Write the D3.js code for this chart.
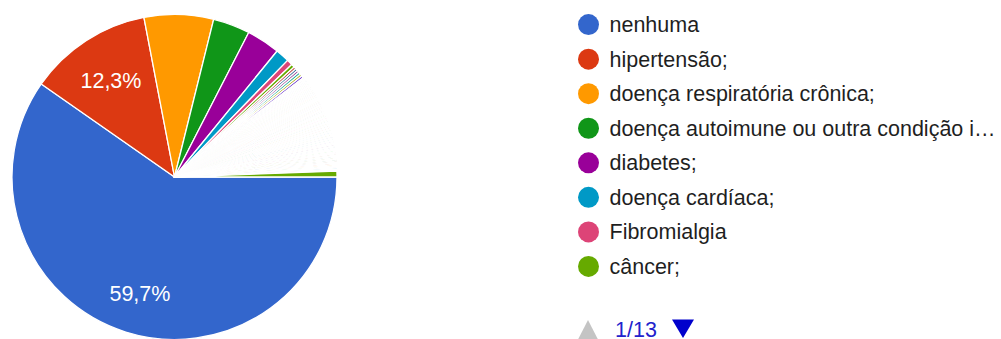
<!DOCTYPE html>
<html>
<head>
<meta charset="utf-8">
<script src="https://cdn.jsdelivr.net/npm/d3@7"></script>
<style>
  html, body { margin: 0; padding: 0; background: #fff; }
  svg { display: block; font-family: Arial, "Liberation Sans", Helvetica, sans-serif; }
</style>
</head>
<body>
<svg id="chart" width="1001" height="339"></svg>
<script>
// Answers on the first legend page and their response counts
const categories = [
  "nenhuma",
  "hipertensão;",
  "doença respiratória crônica;",
  "doença autoimune ou outra condição imunológica;",
  "diabetes;",
  "doença cardíaca;",
  "Fibromialgia",
  "câncer;"
];
const counts = [520, 107, 60, 32, 29, 12, 5, 3];

// Remaining free-text answers (later legend pages), one or a few responses each
const otherCounts = [
  2,2,2,2,2,2,
  1,1,1,1,1,1,1,1,1,1, 1,1,1,1,1,1,1,1,1,1,
  1,1,1,1,1,1,1,1,1,1, 1,1,1,1,1,1,1,1,1,1,
  1,1,1,1,1,1,1,1,1,1, 1,1,1,1,1,1,1,1,1,1,
  1,1,1,1,1,1,1,1,1,1, 1,1,1,1,1,1,1,1,1,1,
  1,1,1,1,1,1,
  5
];

const palette = [
  "#3366cc","#dc3912","#ff9900","#109618","#990099","#0099c6","#dd4477","#66aa00",
  "#b82e2e","#316395","#994499","#22aa99","#aaaa11","#6633cc","#e67300","#8b0707",
  "#651067","#329262","#5574a6","#3b3eac","#b77322","#16d620","#b91383","#f4359e",
  "#9c5935","#a9c413","#2a778d","#668d1c","#bea413","#0c5922","#743411"
];

const allValues = counts.concat(otherCounts);
const total = d3.sum(allValues);
const perPage = categories.length;
const pageCount = Math.ceil(allValues.length / perPage);

const svg = d3.select("#chart");

// ---- Pie ----
const cx = 174.5, cy = 177, R = 162.5;
const pie = d3.pie().sort(null)
  .startAngle(Math.PI / 2)
  .endAngle(Math.PI / 2 + 2 * Math.PI)
  .value(d => d);
const arcs = pie(allValues);
const arc = d3.arc().innerRadius(0).outerRadius(R);
const labelArc = d3.arc().innerRadius(R * 0.73).outerRadius(R * 0.73);

const g = svg.append("g").attr("transform", `translate(${cx},${cy})`);

g.selectAll("path.slice")
  .data(arcs)
  .join("path")
  .attr("class", "slice")
  .attr("d", arc)
  .attr("fill", (d, i) => palette[i % palette.length])
  .attr("stroke", "#fff")
  .attr("stroke-width", 1.3)
  .attr("stroke-linejoin", "round");

const fmt = v => (v * 100).toFixed(1).replace(".", ",") + "%";

g.selectAll("text.pct")
  .data(arcs.filter(d => d.value / total >= 0.1))
  .join("text")
  .attr("class", "pct")
  .attr("x", d => labelArc.centroid(d)[0] + 1)
  .attr("y", d => labelArc.centroid(d)[1] + 10.5)
  .attr("text-anchor", "middle")
  .attr("fill", "#fff")
  .style("font-size", "21.5px")
  .text(d => fmt(d.value / total));

// ---- Legend ----
const lx = 588.5, ly0 = 24.6, lstep = 34.55, textX = 609.5, maxTextW = 392;
const legend = svg.append("g");
const rows = legend.selectAll("g.row")
  .data(categories)
  .join("g")
  .attr("class", "row")
  .attr("transform", (d, i) => `translate(0,${ly0 + i * lstep})`);

rows.append("circle")
  .attr("cx", lx)
  .attr("cy", 0)
  .attr("r", 10.5)
  .attr("fill", (d, i) => palette[i]);

rows.append("text")
  .attr("x", textX)
  .attr("y", 7.5)
  .attr("fill", "#1f1f1f")
  .style("font-size", "21.5px")
  .text(d => d)
  .each(function(d) {
    // shorten long answers with an ellipsis
    const el = d3.select(this);
    let s = d;
    while (s.length > 1 && this.getComputedTextLength() > maxTextW) {
      s = s.slice(0, -1);
      el.text(s.trimEnd() + "…");
    }
  });

// ---- Pagination ----
const pg = svg.append("g");
pg.append("path")
  .attr("d", d3.line()([[578, 339.5], [588, 320], [598, 339.5]]) + "Z")
  .attr("fill", "#c4c4c4");
pg.append("text")
  .attr("x", 615)
  .attr("y", 337)
  .attr("fill", "#2222cc")
  .style("font-size", "21.5px")
  .text(`1/${pageCount}`);
pg.append("path")
  .attr("d", d3.line()([[672, 319.5], [694, 319.5], [683, 338]]) + "Z")
  .attr("fill", "#0000cc");
</script>
</body>
</html>
